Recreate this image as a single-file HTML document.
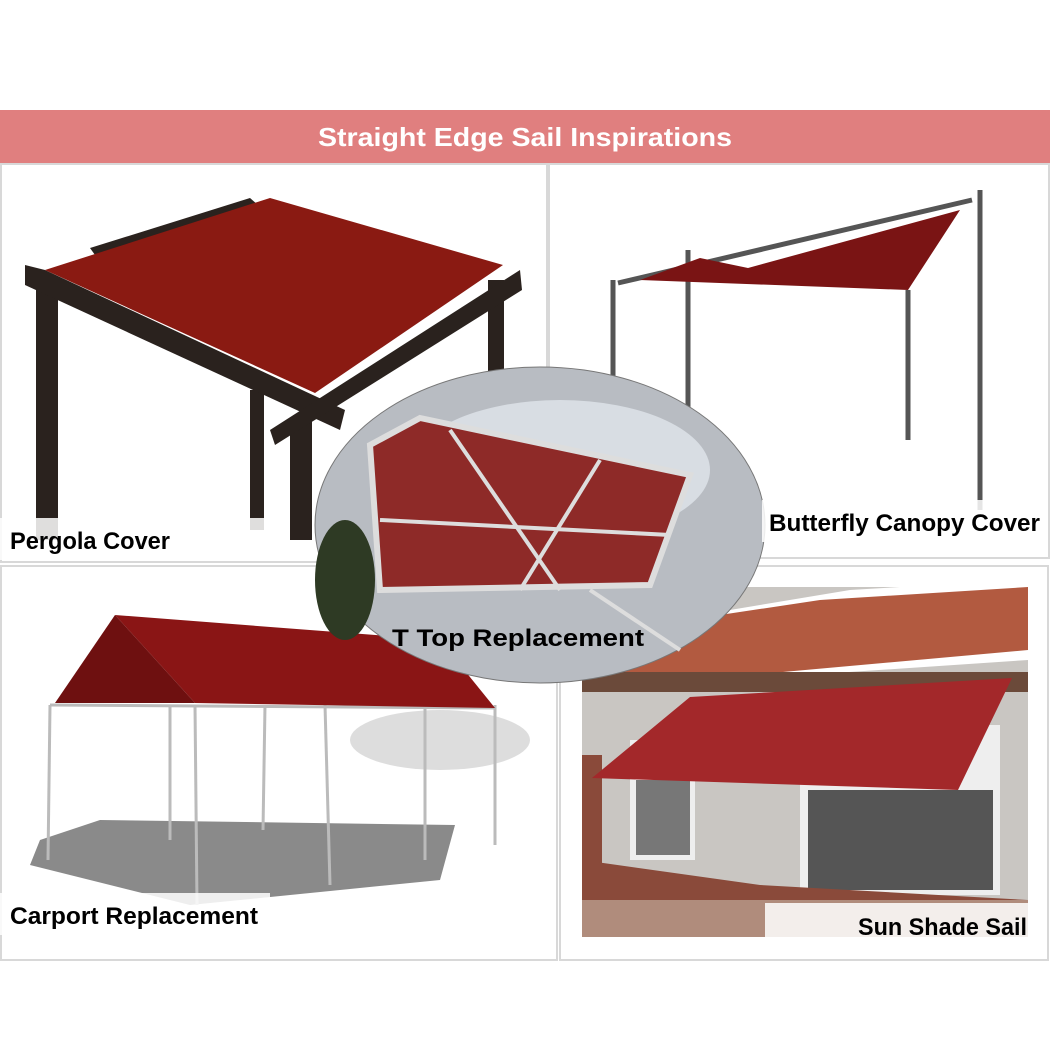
<!DOCTYPE html>
<html><head><meta charset="utf-8"><style>
body{margin:0;background:#fff}
svg text{font-family:"Liberation Sans",sans-serif;font-weight:bold}
</style></head><body>
<svg width="1050" height="1050" viewBox="0 0 1050 1050" xmlns="http://www.w3.org/2000/svg">
<rect width="1050" height="1050" fill="#fff"/>
<rect x="0" y="110" width="1050" height="53" fill="#e07f7f"/>
<text x="318" y="146" font-size="26" fill="#fff" textLength="414" lengthAdjust="spacingAndGlyphs">Straight Edge Sail Inspirations</text>
<rect x="1" y="164" width="546" height="398" fill="none" stroke="#d8d8d8" stroke-width="2"/>
<rect x="549" y="164" width="500" height="394" fill="none" stroke="#d8d8d8" stroke-width="2"/>
<rect x="1" y="566" width="556" height="394" fill="none" stroke="#d8d8d8" stroke-width="2"/>
<rect x="560" y="566" width="488" height="394" fill="none" stroke="#d8d8d8" stroke-width="2"/>
<g fill="#2a221e">
<rect x="36" y="290" width="22" height="250"/>
<rect x="250" y="390" width="14" height="140"/>
<rect x="290" y="420" width="22" height="120"/>
<rect x="488" y="280" width="16" height="110"/>
<polygon points="25,265 45,270 345,410 340,430 25,285"/>
<polygon points="270,430 520,270 522,290 275,445"/>
<polygon points="90,248 250,198 258,205 95,255"/>
</g>
<polygon points="45,270 270,198 503,265 315,393" fill="#8a1a12"/>
<g stroke="#555" stroke-width="5" fill="none">
<line x1="613" y1="280" x2="613" y2="395"/>
<line x1="688" y1="250" x2="688" y2="420"/>
<line x1="908" y1="290" x2="908" y2="440"/>
<line x1="980" y1="190" x2="980" y2="510"/>
<line x1="618" y1="283" x2="972" y2="200"/>
</g>
<polygon points="640,280 700,258 748,268 960,210 908,290" fill="#7a1414"/>
<polygon points="840,310 855,200 1050,420" fill="none"/>
<polygon points="40,840 100,820 455,825 440,880 190,905 30,865" fill="#8a8a8a"/>
<ellipse cx="440" cy="740" rx="90" ry="30" fill="#ddd"/>
<g stroke="#bbb" stroke-width="3">
<line x1="50" y1="705" x2="48" y2="860"/><line x1="195" y1="705" x2="197" y2="905"/>
<line x1="170" y1="705" x2="170" y2="840"/><line x1="265" y1="705" x2="263" y2="830"/>
<line x1="325" y1="705" x2="330" y2="885"/><line x1="425" y1="705" x2="425" y2="860"/>
<line x1="495" y1="705" x2="495" y2="845"/><line x1="50" y1="705" x2="495" y2="708"/>
</g>
<polygon points="115,615 440,640 495,708 195,703" fill="#8a1515"/>
<polygon points="55,703 115,615 195,703" fill="#6e1010"/>
<rect x="582" y="587" width="446" height="350" fill="#c9c6c2"/>
<polygon points="582,600 700,598 730,610 850,590 900,587 1028,587 1028,660 582,690" fill="#fff"/>
<polygon points="582,690 700,618 820,600 1028,587 1028,650 582,690" fill="#b25a40"/>
<rect x="582" y="672" width="446" height="20" fill="#6b4a3a"/>
<rect x="582" y="755" width="20" height="110" fill="#8a4a3a"/>
<rect x="630" y="740" width="65" height="120" fill="#eee"/><rect x="636" y="780" width="54" height="75" fill="#777"/>
<rect x="800" y="725" width="200" height="170" fill="#eee"/><rect x="808" y="790" width="185" height="100" fill="#555"/>
<polygon points="582,860 760,885 1028,900 1028,937 582,937" fill="#8a4a3a"/>
<rect x="582" y="900" width="446" height="37" fill="#c9b9a8" opacity=".6"/>
<polygon points="592,778 690,697 1012,678 958,790" fill="#a3282a"/>
<ellipse cx="540" cy="525" rx="225" ry="158" fill="#b8bcc2" stroke="#777" stroke-width="1"/>
<ellipse cx="560" cy="470" rx="150" ry="70" fill="#d8dde3"/>
<polygon points="370,445 420,418 690,475 650,585 380,590" fill="#8e2a28" stroke="#ddd" stroke-width="6"/>
<g stroke="#ddd" stroke-width="4"><line x1="380" y1="520" x2="670" y2="535"/><line x1="450" y1="430" x2="560" y2="590"/><line x1="600" y1="460" x2="520" y2="590"/><line x1="590" y1="590" x2="680" y2="650"/></g>
<ellipse cx="345" cy="580" rx="30" ry="60" fill="#2e3a24"/>
<rect x="0" y="518" width="270" height="42" fill="#fff" opacity=".85"/>
<text x="10" y="549" font-size="24" fill="#000" textLength="160" lengthAdjust="spacingAndGlyphs">Pergola Cover</text>
<rect x="762" y="500" width="286" height="42" fill="#fff" opacity=".85"/>
<text x="769" y="531" font-size="24" fill="#000" textLength="271" lengthAdjust="spacingAndGlyphs">Butterfly Canopy Cover</text>
<text x="392" y="646" font-size="24" fill="#000" textLength="252" lengthAdjust="spacingAndGlyphs">T Top Replacement</text>
<rect x="0" y="893" width="270" height="42" fill="#fff" opacity=".85"/>
<text x="10" y="924" font-size="24" fill="#000" textLength="248" lengthAdjust="spacingAndGlyphs">Carport Replacement</text>
<rect x="765" y="903" width="263" height="40" fill="#fff" opacity=".85"/>
<text x="858" y="935" font-size="24" fill="#000" textLength="169" lengthAdjust="spacingAndGlyphs">Sun Shade Sail</text>
</svg>
</body></html>
